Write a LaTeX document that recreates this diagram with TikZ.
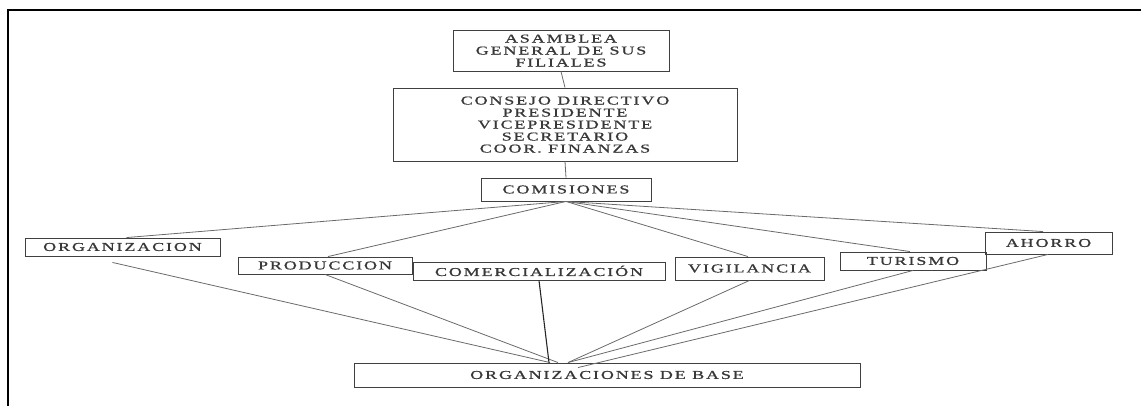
\documentclass[tikz,border=0pt]{standalone}
\usepackage{graphicx}
\usepackage{fontspec}
\setmainfont{Liberation Serif}[LetterSpace=10.4,FakeBold=0.8]
\usetikzlibrary{calc}
\definecolor{boxc}{HTML}{404040}
\definecolor{linkc}{HTML}{6A6A6A}
\definecolor{txtc}{HTML}{383838}
\newcommand{\widetext}[1]{\raisebox{0pt}[\height][\dimexpr\depth-3.2pt\relax]{\scalebox{1.5}[1]{\begin{tabular}{@{}c@{}}#1\end{tabular}}}}
\begin{document}
\begin{tikzpicture}[x=1pt,y=-1pt,
  box/.style={draw=boxc, line width=0.9pt, rectangle, inner sep=0pt, text=txtc,
    font=\fontsize{12}{12}\selectfont},
  link/.style={draw=linkc, line width=0.8pt},
  strong/.style={draw=black!85, line width=1.1pt}]
\useasboundingbox (0,0) rectangle (1141,405);
\draw[line width=2pt, line cap=rect] (7.7,405) -- (7.7,10) -- (1141,10);

\node[box, minimum width=216pt, minimum height=41pt] (asam) at (561,50.5) {\widetext{ASAMBLEA\\GENERAL DE SUS\\FILIALES}};
\node[box, minimum width=344pt, minimum height=73pt] (cons) at (565,124.5) {\widetext{CONSEJO DIRECTIVO\\PRESIDENTE\\VICEPRESIDENTE\\SECRETARIO\\COOR. FINANZAS}};
\node[box, minimum width=170pt, minimum height=23pt] (comi) at (566,189.5) {\widetext{COMISIONES}};
\node[box, minimum width=195pt, minimum height=18pt] (org) at (122.5,247) {\widetext{ORGANIZACION}};
\node[box, minimum width=174pt, minimum height=17pt] (prod) at (325,265.5) {\widetext{PRODUCCION}};
\node[box, minimum width=252pt, minimum height=18pt] (come) at (539,271) {\widetext{COMERCIALIZACIÓN}};
\node[box, minimum width=149pt, minimum height=23pt] (vigi) at (749.5,268.5) {\widetext{VIGILANCIA}};
\node[box, minimum width=146pt, minimum height=18pt] (turi) at (913,261) {\widetext{TURISMO}};
\node[box, minimum width=127pt, minimum height=22pt] (ahor) at (1048.5,243) {\widetext{AHORRO}};
\node[box, minimum width=506pt, minimum height=24pt] (base) at (607,375) {\widetext{ORGANIZACIONES DE BASE}};

\draw[link] (asam.south) -- (cons.north);
\draw[link] (cons.south) -- (comi.north);
\draw[link] (comi.south) -- ($(org.north)+(4,0)$);
\draw[link] (comi.south) -- ($(prod.north)+(3,0)$);
\draw[link] (comi.south) -- ($(vigi.north)+(-1.5,0)$);
\draw[link] (comi.south) -- ($(turi.north)+(-3,0)$);
\draw[link] (comi.south) -- ($(ahor.north)+(-5.5,0)$);
\draw[link] ($(org.south)+(-10,6)$) -- ($(base.north)+(-57,0)$);
\draw[link] (prod.south) -- ($(base.north)+(-49,0)$);
\draw[strong] (come.south) -- ($(base.north)+(-58,0)$);
\draw[link] (vigi.south) -- ($(base.north)+(-39,0)$);
\draw[link] (turi.south) -- ($(base.north)+(-39,0)$);
\draw[link] ($(ahor.south)+(-0.5,0)$) -- ($(base.north)+(-29,5)$);
\end{tikzpicture}
\end{document}
